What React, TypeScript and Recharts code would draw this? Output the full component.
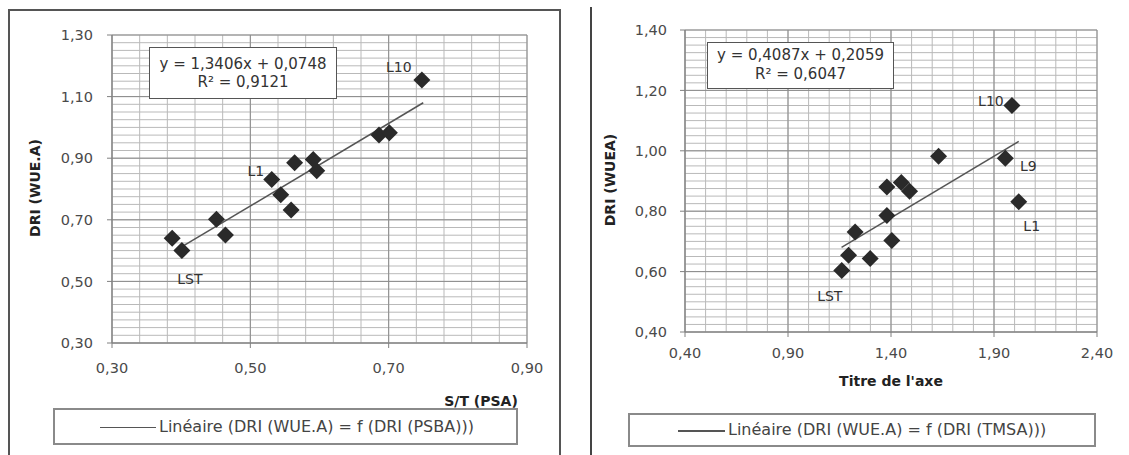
import React from 'react';
import { ScatterChart, Scatter, XAxis, YAxis, CartesianGrid, ReferenceLine } from 'recharts';

// ---------- Left chart data : DRI (WUE.A) = f(S/T (PSA)) ----------
const leftX = [0.387, 0.401, 0.451, 0.464, 0.531, 0.544, 0.559, 0.564, 0.591, 0.596, 0.686, 0.701, 0.748];
const leftY = [0.640, 0.600, 0.702, 0.651, 0.831, 0.781, 0.732, 0.885, 0.896, 0.859, 0.975, 0.983, 1.154];
const leftTags = ['', 'LST', '', '', 'L1', '', '', '', '', '', '', '', 'L10'];
const leftXTicks = [0.3, 0.5, 0.7, 0.9];
const leftYTicks = [0.3, 0.5, 0.7, 0.9, 1.1, 1.3];
const leftTrend = [{ x: 0.40, y: 0.611 }, { x: 0.75, y: 1.080 }];
const leftEquation = ['y = 1,3406x + 0,0748', 'R² = 0,9121'];
const leftLegend = 'Linéaire (DRI (WUE.A) = f (DRI (PSBA)))';
const leftXTitle = 'S/T (PSA)';
const leftYTitle = 'DRI  (WUE.A)';

// ---------- Right chart data : DRI (WUEA) = f(TMSA) ----------
const rightX = [1.161, 1.194, 1.299, 1.226, 1.404, 1.380, 1.380, 1.450, 1.490, 1.631, 1.955, 1.987, 2.020];
const rightY = [0.604, 0.654, 0.643, 0.731, 0.703, 0.786, 0.880, 0.895, 0.866, 0.982, 0.975, 1.150, 0.831];
const rightTags = ['LST', '', '', '', '', '', '', '', '', '', 'L9', 'L10', 'L1'];
const rightXTicks = [0.4, 0.9, 1.4, 1.9, 2.4];
const rightYTicks = [0.4, 0.6, 0.8, 1.0, 1.2, 1.4];
const rightTrend = [{ x: 1.16, y: 0.680 }, { x: 2.02, y: 1.031 }];
const rightEquation = ['y = 0,4087x + 0,2059', 'R² = 0,6047'];
const rightLegend = 'Linéaire (DRI (WUE.A) = f (DRI (TMSA)))';
const rightXTitle = "Titre de l'axe";
const rightYTitle = 'DRI (WUEA)';

// label offsets (px) relative to the marker centre
const leftTagOffset: Record<string, [number, number]> = { L10: [-23, -13], L1: [-16, -8], LST: [8, 28] };
const rightTagOffset: Record<string, [number, number]> = { L10: [-21, -5], L9: [23, 8], L1: [13, 24], LST: [-12, 26] };

const FONT = '"DejaVu Sans", sans-serif';

const steps = (a: number, b: number, s: number) =>
  Array.from({ length: Math.round((b - a) / s) + 1 }, (_, i) => +(a + i * s).toFixed(4));

const fmt = (v: number) => v.toFixed(2).replace('.', ',');

const build = (xs: number[], ys: number[], tags: string[]) =>
  xs.map((x, i) => ({ x, y: ys[i], tag: tags[i] }));

const makeDiamond = (offsets: Record<string, [number, number]>) => (props: any) => {
  const { cx, cy, payload } = props;
  if (cx == null || cy == null) return <g />;
  const r = 8.5;
  const tag = payload && payload.tag;
  const off = tag ? offsets[tag] : null;
  return (
    <g>
      <polygon
        points={`${cx},${cy - r} ${cx + r},${cy} ${cx},${cy + r} ${cx - r},${cy}`}
        fill="#2a2a2a"
      />
      {tag && off ? (
        <text
          x={cx + off[0]}
          y={cy + off[1]}
          textAnchor="middle"
          dominantBaseline="central"
          fontSize={14}
          fontFamily={FONT}
          fill="#333"
        >
          {tag}
        </text>
      ) : null}
    </g>
  );
};

type PanelProps = {
  data: { x: number; y: number; tag: string }[];
  xTicks: number[];
  yTicks: number[];
  xMinor: number;
  yMinor: number;
  trend: { x: number; y: number }[];
  offsets: Record<string, [number, number]>;
  width: number;
  margin: { top: number; right: number; bottom: number; left: number };
  yAxisWidth: number;
  xTickMargin: number;
  yTickMargin: number;
};

const Panel = (p: PanelProps) => {
  const xd: [number, number] = [p.xTicks[0], p.xTicks[p.xTicks.length - 1]];
  const yd: [number, number] = [p.yTicks[0], p.yTicks[p.yTicks.length - 1]];
  const tickStyle = { fontSize: 14.5, fill: '#4a4a4a', fontFamily: FONT };
  return (
    <ScatterChart width={p.width} height={455} margin={p.margin}>
      <CartesianGrid
        horizontalValues={steps(yd[0], yd[1], p.yMinor)}
        verticalValues={steps(xd[0], xd[1], p.xMinor)}
        stroke="#b9b9b9"
        strokeWidth={1}
      />
      <CartesianGrid horizontalValues={p.yTicks} verticalValues={p.xTicks} stroke="#8c8c8c" strokeWidth={1} />
      <XAxis
        type="number"
        dataKey="x"
        domain={xd}
        ticks={p.xTicks}
        interval={0}
        tickFormatter={fmt}
        height={30}
        tickSize={5}
        tickMargin={p.xTickMargin}
        axisLine={{ stroke: '#808080' }}
        tickLine={{ stroke: '#808080' }}
        tick={tickStyle}
        allowDataOverflow
      />
      <YAxis
        type="number"
        dataKey="y"
        domain={yd}
        ticks={p.yTicks}
        interval={0}
        tickFormatter={fmt}
        width={p.yAxisWidth}
        tickSize={5}
        tickMargin={p.yTickMargin}
        axisLine={{ stroke: '#808080' }}
        tickLine={{ stroke: '#808080' }}
        tick={tickStyle}
        allowDataOverflow
      />
      <ReferenceLine segment={p.trend} stroke="#555" strokeWidth={1.5} ifOverflow="visible" />
      <Scatter data={p.data} shape={makeDiamond(p.offsets)} isAnimationActive={false} />
    </ScatterChart>
  );
};

const abs = (s: React.CSSProperties): React.CSSProperties => ({ position: 'absolute', ...s });

const EqBox = ({ lines, left, top, width, height, padTop, lh }: any) => (
  <div
    style={abs({
      left, top, width, height, boxSizing: 'border-box', border: '1.5px solid #555', background: '#fff',
      textAlign: 'center', fontSize: 15, lineHeight: `${lh}px`, paddingTop: padTop, color: '#333', whiteSpace: 'nowrap',
    })}
  >
    <div>{lines[0]}</div>
    <div>{lines[1]}</div>
  </div>
);

const LegendBox = ({ text, left, top, width, height, lineFrom, lineTo }: any) => (
  <div
    style={abs({
      left, top, width, height, boxSizing: 'border-box', border: '2px solid #8a8a8a', background: '#fff',
    })}
  >
    <div style={abs({ left: lineFrom, top: height / 2 - 2, width: lineTo - lineFrom, height: 1.5, background: '#555' })} />
    <div style={abs({ left: lineTo + 3, top: 0, height: height - 4, lineHeight: `${height - 4}px`, fontSize: 16, color: '#444', whiteSpace: 'nowrap' })}>
      {text}
    </div>
  </div>
);

const Title = ({ text, cx, cy, rotate }: any) => (
  <div
    style={abs({
      left: cx, top: cy, transform: `translate(-50%, -50%)${rotate ? ' rotate(-90deg)' : ''}`,
      fontSize: 14, fontWeight: 'bold', color: '#222', whiteSpace: 'nowrap',
    })}
  >
    {text}
  </div>
);

export default function App() {
  const leftData = build(leftX, leftY, leftTags);
  const rightData = build(rightX, rightY, rightTags);
  return (
    <div style={abs({ left: 0, top: 0, width: 1129, height: 455, background: '#fff', overflow: 'hidden', fontFamily: FONT })}>
      {/* left panel frame */}
      <div style={abs({ left: 8, top: 9, width: 553, height: 460, boxSizing: 'border-box', border: '2px solid #555' })} />
      {/* right panel left rule */}
      <div style={abs({ left: 590, top: 7, width: 2, height: 448, background: '#444' })} />

      <div style={abs({ left: 0, top: 0 })}>
        <Panel
          data={leftData}
          xTicks={leftXTicks}
          yTicks={leftYTicks}
          xMinor={0.04}
          yMinor={0.025}
          trend={leftTrend}
          offsets={leftTagOffset}
          width={561}
          margin={{ top: 35, right: 34, bottom: 82, left: 0 }}
          yAxisWidth={112}
          xTickMargin={15}
          yTickMargin={14}
        />
      </div>
      <div style={abs({ left: 591, top: 0 })}>
        <Panel
          data={rightData}
          xTicks={rightXTicks}
          yTicks={rightYTicks}
          xMinor={0.1}
          yMinor={0.025}
          trend={rightTrend}
          offsets={rightTagOffset}
          width={538}
          margin={{ top: 30, right: 32, bottom: 93, left: 0 }}
          yAxisWidth={94}
          xTickMargin={11}
          yTickMargin={13}
        />
      </div>

      <EqBox lines={leftEquation} left={149} top={47} width={188} height={52} padTop={7} lh={18} />
      <EqBox lines={rightEquation} left={707} top={42} width={187} height={47} padTop={3} lh={19} />

      <Title text={leftXTitle} cx={481} cy={401} />
      <Title text={rightXTitle} cx={891} cy={381} />
      <Title text={leftYTitle} cx={35} cy={188} rotate />
      <Title text={rightYTitle} cx={610} cy={180} rotate />

      <LegendBox text={leftLegend} left={53} top={408} width={465} height={37} lineFrom={45} lineTo={101} />
      <LegendBox text={rightLegend} left={628} top={413} width={468} height={34} lineFrom={48} lineTo={95} />
    </div>
  );
}
